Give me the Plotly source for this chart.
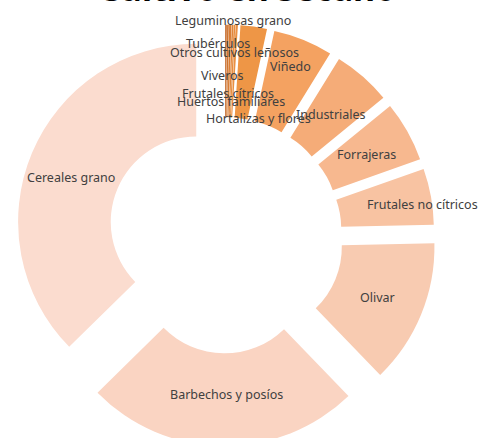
import plotly.graph_objects as go

# Data (share of dry-land area, %), clockwise from 12 o'clock
cultivos = ["Leguminosas grano", "Tubérculos", "Otros cultivos leñosos", "Viveros",
            "Frutales cítricos", "Huertos familiares", "Hortalizas y flores", "Viñedo",
            "Industriales", "Forrajeras", "Frutales no cítricos", "Olivar",
            "Barbechos y posíos", "Cereales grano"]
porcentaje = [0.15, 0.15, 0.2, 0.15, 0.15, 0.2, 2.4, 5.4, 5.3, 5.5, 5.1, 13.1, 24.9, 37.4]

colores = ["#C56A2A", "#CF742F", "#D87D35", "#E0853A", "#E68C3E", "#EA9042", "#EE9646",
           "#F4A261", "#F5AC78", "#F7B88F", "#F8C3A2", "#F8CBB1", "#FAD4C2", "#FBDCCF"]

W = 482
H = 450  # a little taller than the window: the ring runs off the bottom like the original

pulls = [0.175] * len(cultivos)
pulls[cultivos.index("Barbechos y posíos")] = 0.19
pulls[cultivos.index("Olivar")] = 0.19

fig = go.Figure()
fig.add_trace(go.Pie(
    labels=cultivos, values=porcentaje, sort=False, direction="clockwise", rotation=0,
    hole=0.48, pull=pulls,
    marker=dict(colors=colores, line=dict(width=0)),
    textinfo="none", hoverinfo="label+percent", showlegend=False,
    domain=dict(x=[13 / W, 437 / W], y=[1 - 446 / H, 1 - 22 / H]),
))

# label positions (pixels, text centre) as Excel placed them
label_pos = {
    "Leguminosas grano": (233, 21), "Tubérculos": (218, 43),
    "Otros cultivos leñosos": (234, 53), "Viveros": (222, 76),
    "Frutales cítricos": (228, 93), "Huertos familiares": (231, 101),
    "Hortalizas y flores": (258, 118), "Viñedo": (290, 66),
    "Industriales": (331, 114), "Forrajeras": (366, 154),
    "Frutales no cítricos": (422, 205), "Olivar": (377, 297),
    "Barbechos y posíos": (226, 394), "Cereales grano": (71, 177),
}
for name in cultivos:
    px, py = label_pos[name]
    fig.add_annotation(x=px / W, y=1 - py / H, xref="paper", yref="paper",
                       text=name, showarrow=False, xanchor="center", yanchor="middle",
                       font=dict(family="Noto Sans", size=12.5, color="#404040"))

# title, mostly cut off above the frame
fig.add_annotation(x=247 / W, y=1 - 13 / H, xref="paper", yref="paper",
                   text="<b>Cultivo en secano</b>", showarrow=False,
                   xanchor="center", yanchor="bottom",
                   font=dict(family="Noto Sans", size=34, color="#000000"))

fig.update_layout(width=W, height=H, margin=dict(l=0, r=0, t=0, b=0),
                  paper_bgcolor="white", plot_bgcolor="white")

fig.write_html("out.html", config={"displayModeBar": False},
               post_script="document.body.style.margin='0';"
                           "document.body.style.overflow='hidden';")
